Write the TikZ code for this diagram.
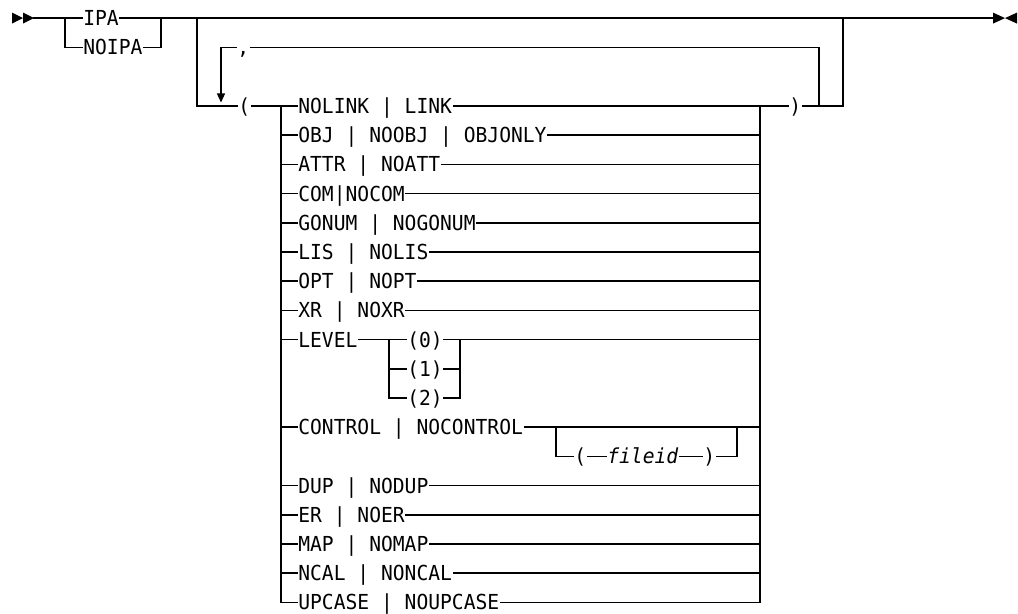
\documentclass[tikz,border=0pt]{standalone}
\usepackage{fontspec}
\setmonofont[FakeStretch=0.95]{DejaVu Sans Mono}
\usetikzlibrary{arrows.meta}
\begin{document}
\begin{tikzpicture}[x=0.75pt,y=-0.75pt,
  kw/.style={font=\ttfamily\fontsize{15.5}{17}\selectfont, inner xsep=0.8pt, inner ysep=0pt,
             text height=11.3pt, text depth=0pt, anchor=west},
  kwit/.style={kw, font=\ttfamily\itshape\fontsize{15.5}{17}\selectfont},
  rail/.style={line width=1.1pt, line cap=rect},
  tipfill/.style={fill=black}
]
\useasboundingbox (0,0) rectangle (1018,614);

% start / end markers
\coordinate (s) at (34,18.1);
\coordinate (e) at (993,18.1);
\fill[tipfill] (12,12.6) -- (23,18.1) -- (12,23.6) -- cycle;
\fill[tipfill] (23,12.6) -- (34,18.1) -- (23,23.6) -- cycle;
\fill[tipfill] (993,12.6) -- (1005,18.1) -- (993,23.6) -- cycle;
\fill[tipfill] (1017,12.6) -- (1005,18.1) -- (1017,23.6) -- cycle;

% IPA / NOIPA
\coordinate (b1) at (65,18.1);
\coordinate (j1) at (161,18.1);
\node[kw] (ipa) at (82,18.1) {IPA};
\node[kw] (noipa) at (82,47.4) {NOIPA};
\draw[rail] (s) -- (ipa.west);
\draw[rail] (ipa.east) -- (j1);
\draw[rail] (b1) |- (noipa.west);
\draw[rail] (noipa.east) -| (j1);
\draw[rail] (j1) -- (e);

% group entry
\coordinate (g1) at (197,18.1);
\coordinate (g2) at (843,106);
\coordinate (g2t) at (843,18.1);
\node[kw] (lp) at (237,106) {(};
\draw[rail] (g1) |- (lp.west);

% repeat loop with comma
\coordinate (c2) at (819,106);
\coordinate (ca) at (819,47.4);
\coordinate (cb) at (221,47.4);
\coordinate (ctip) at (221,102.5);
\node[kw] (comma) at (236,47.4) {,};
\draw[rail] (c2) -- (ca) -- (comma.east);
\draw[rail] (comma.west) -- (cb);
\draw[rail,-{Triangle[length=6.8pt,width=6pt]}] (cb) -- (ctip);

% option list
\coordinate (Lb) at (281,106);
\coordinate (Rb) at (760,106);
\node[kw] (n0)  at (297,106)   {NOLINK | LINK};
\node[kw] (n1)  at (297,135.2) {OBJ | NOOBJ | OBJONLY};
\node[kw] (n2)  at (297,164.4) {ATTR | NOATT};
\node[kw] (n3)  at (297,193.6) {COM|NOCOM};
\node[kw] (n4)  at (297,222.8) {GONUM | NOGONUM};
\node[kw] (n5)  at (297,252)   {LIS | NOLIS};
\node[kw] (n6)  at (297,281.2) {OPT | NOPT};
\node[kw] (n7)  at (297,310.4) {XR | NOXR};
\node[kw] (n8)  at (297,339.6) {LEVEL};
\node[kw] (n11) at (297,427.2) {CONTROL | NOCONTROL};
\node[kw] (n13) at (297,485.6) {DUP | NODUP};
\node[kw] (n14) at (297,514.8) {ER | NOER};
\node[kw] (n15) at (297,544)   {MAP | NOMAP};
\node[kw] (n16) at (297,573.2) {NCAL | NONCAL};
\node[kw] (n17) at (297,602.4) {UPCASE | NOUPCASE};
\node[kw] (rp)  at (788,106)   {)};

\draw[rail] (lp.east) -- (n0.west);
\draw[rail] (n0.east) -- (rp.west);
\draw[rail] (rp.east) -- (g2) -- (g2t);
\draw[rail] (Lb) |- (n17.west);
\draw[rail] (n17.east) -| (Rb);
\foreach \r in {n1,n2,n3,n4,n5,n6,n7,n8,n11,n13,n14,n15,n16}{
  \draw[rail] (Lb |- \r.west) -- (\r.west);
}
\foreach \r in {n1,n2,n3,n4,n5,n6,n7,n13,n14,n15,n16}{
  \draw[rail] (\r.east) -- (Rb |- \r.east);
}

% LEVEL choices
\coordinate (lv1) at (389,339.6);
\coordinate (lv2) at (460,339.6);
\node[kw] (l0) at (406,339.6) {(0)};
\node[kw] (l1) at (406,368.8) {(1)};
\node[kw] (l2) at (406,398)   {(2)};
\draw[rail] (n8.east) -- (l0.west);
\draw[rail] (lv1) |- (l2.west);
\draw[rail] (lv1 |- l1.west) -- (l1.west);
\draw[rail] (l0.east) -- (Rb |- l0.east);
\draw[rail] (l2.east) -| (lv2);
\draw[rail] (l1.east) -- (lv2 |- l1.east);

% CONTROL fileid
\coordinate (ct1) at (556,427.2);
\coordinate (ct2) at (737,427.2);
\node[kw] (fl) at (573,456.4) {(};
\node[kwit] (fid) at (606,456.4) {fileid};
\node[kw] (fr) at (702,456.4) {)};
\draw[rail] (n11.east) -- (Rb |- n11.east);
\draw[rail] (ct1) |- (fl.west);
\draw[rail] (fl.east) -- (fid.west);
\draw[rail] (fid.east) -- (fr.west);
\draw[rail] (fr.east) -| (ct2);
\end{tikzpicture}
\end{document}
